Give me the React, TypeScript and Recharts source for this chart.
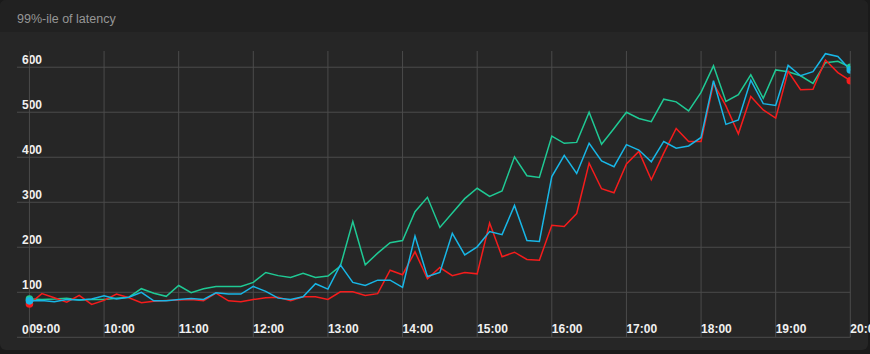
import React from 'react';
import { LineChart, Line, XAxis, YAxis, ReferenceLine } from 'recharts';

// minutes after 09:00, one sample every 10 minutes
const STEP_MINUTES = 10;

const redSeries = [
  74, 97, 88, 78, 93, 73, 82, 96, 88, 77, 80, 82, 83, 84, 81, 98, 81, 79, 84, 88,
  89, 81, 90, 90, 84, 101, 101, 93, 97, 149, 139, 190, 130, 155, 137, 144, 141, 254, 179, 189,
  173, 171, 249, 246, 275, 387, 330, 321, 385, 413, 350, 409, 464, 435, 435, 564, 514, 452, 535, 505,
  487, 591, 550, 551, 616, 588, 570,
];

const greenSeries = [
  85, 84, 85, 87, 83, 84, 84, 87, 89, 108, 98, 91, 115, 99, 108, 113, 113, 113, 122, 144,
  137, 133, 142, 133, 136, 158, 257, 161, 187, 210, 215, 279, 311, 244, 276, 308, 331, 313, 325, 401,
  359, 355, 447, 431, 433, 500, 429, 464, 500, 486, 479, 529, 523, 503, 544, 603, 524, 539, 583, 531,
  594, 590, 581, 564, 610, 613, 600,
];

const cyanSeries = [
  81, 82, 79, 84, 83, 85, 92, 85, 89, 100, 81, 81, 84, 86, 84, 99, 96, 96, 113, 102,
  87, 84, 90, 119, 107, 161, 122, 115, 127, 127, 111, 225, 135, 144, 231, 183, 201, 235, 228, 293,
  215, 213, 357, 404, 364, 431, 392, 379, 428, 416, 390, 435, 420, 425, 444, 570, 473, 483, 571, 519,
  515, 604, 581, 590, 630, 624, 594,
];

const hourTicks = [0, 60, 120, 180, 240, 300, 360, 420, 480, 540, 600, 660];
const hourLabels = ['09:00', '10:00', '11:00', '12:00', '13:00', '14:00', '15:00', '16:00', '17:00', '18:00', '19:00', '20:00'];
const valueTicks = [0, 100, 200, 300, 400, 500, 600];

const TITLE = '99%-ile of latency';

const data = redSeries.map((r, i) => ({
  t: i * STEP_MINUTES,
  red: r,
  green: greenSeries[i],
  cyan: cyanSeries[i],
}));

const RED = '#f51c1c';
const GREEN = '#1fc994';
const CYAN = '#18b6e6';
const GRID = '#4b4b4b';
const TEXT = '#f0f0f0';
const FONT = '"Liberation Sans", Arial, Helvetica, sans-serif';

const makeEndDot = (color: string) => (props: any) => {
  const { cx, cy, index } = props;
  if (index !== 0 && index !== data.length - 1) {
    return <g key={`n-${index}`} />;
  }
  return <circle key={`d-${index}`} cx={cx} cy={cy} r={3.8} fill={color} stroke="none" />;
};

const xLabel = (label: string) => (props: any) => {
  const vb = props.viewBox || {};
  return (
    <text x={vb.x} y={vb.y + vb.height - 4} fill={TEXT} fontSize={12} fontWeight="bold" fontFamily={FONT} textAnchor="start">
      {label}
    </text>
  );
};

const yLabel = (label: string) => (props: any) => {
  const vb = props.viewBox || {};
  return (
    <text x={vb.x + 5} y={vb.y - 3.5} fill={TEXT} fontSize={12} fontWeight="bold" fontFamily={FONT} textAnchor="start">
      {label}
    </text>
  );
};

export default function App() {
  return (
    <div style={{ position: 'absolute', left: 0, top: 0, width: 870, height: 354, background: '#1a1a1a', overflow: 'hidden' }}>
      <div
        style={{
          position: 'absolute',
          left: 0,
          top: 0,
          width: 868,
          height: 350,
          background: '#262626',
          borderRadius: 6,
          overflow: 'hidden',
        }}
      >
        <div style={{ height: 32, background: '#212121' }} />
      </div>
      <div
        style={{
          position: 'absolute',
          left: 17,
          top: 13,
          fontFamily: FONT,
          fontSize: 12.5,
          lineHeight: '13px',
          color: '#969696',
          whiteSpace: 'nowrap',
        }}
      >
        {TITLE}
      </div>
      <div style={{ position: 'absolute', left: 0, top: 0 }}>
        <LineChart
          width={870}
          height={354}
          data={data}
          margin={{ top: 51, right: 19.7, bottom: 16.7, left: 17 }}
        >
          <XAxis dataKey="t" type="number" domain={[-10, 660]} ticks={hourTicks} hide allowDataOverflow />
          <YAxis type="number" domain={[0, 636]} ticks={valueTicks} hide allowDataOverflow />
          {valueTicks.map((v) => (
            <ReferenceLine
              key={`h-${v}`}
              y={v}
              stroke={GRID}
              strokeWidth={1}
              ifOverflow="visible"
              label={yLabel(String(v))}
            />
          ))}
          {hourTicks.map((t, i) => (
            <ReferenceLine
              key={`v-${t}`}
              x={t}
              stroke={GRID}
              strokeWidth={1}
              ifOverflow="visible"
              label={xLabel(hourLabels[i])}
            />
          ))}
          <Line type="linear" dataKey="green" stroke={GREEN} strokeWidth={1.5} dot={makeEndDot(GREEN)} activeDot={false} isAnimationActive={false} />
          <Line type="linear" dataKey="red" stroke={RED} strokeWidth={1.5} dot={makeEndDot(RED)} activeDot={false} isAnimationActive={false} />
          <Line type="linear" dataKey="cyan" stroke={CYAN} strokeWidth={1.5} dot={makeEndDot(CYAN)} activeDot={false} isAnimationActive={false} />
        </LineChart>
      </div>
    </div>
  );
}
